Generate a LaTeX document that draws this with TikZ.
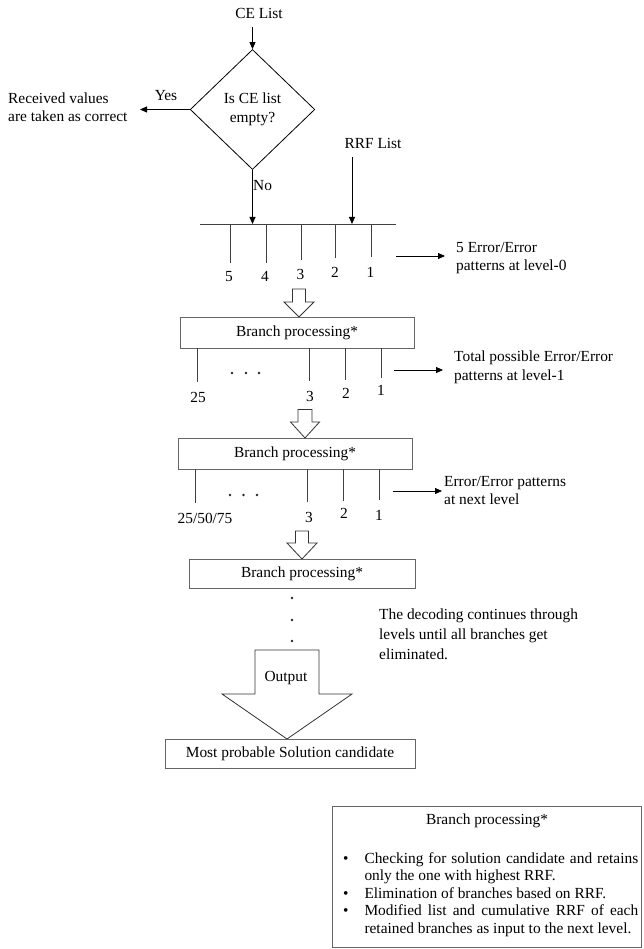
\documentclass[tikz,border=0pt]{standalone}
\usepackage{fontspec}
\setmainfont{Liberation Serif}
\usetikzlibrary{arrows.meta,shapes.geometric}
\newcommand\myBlockArrow[6]{% cx, top, shaft half, head start, head half, tip
  \draw[hollow] ({#1-#3},#2) -- ({#1+#3},#2) -- ({#1+#3},#4) -- ({#1+#5},#4) -- (#1,#6)
    -- ({#1-#5},#4) -- ({#1-#3},#4) -- cycle;}
\begin{document}
\begin{tikzpicture}[x=1pt,y=-1pt,
  every node/.style={font=\fontsize{15.4pt}{18.5pt}\selectfont, inner sep=0pt},
  arr/.style={draw=black, line width=0.8pt, -{Triangle[length=7pt,width=6pt]}},
  tick/.style={draw=black!75, line width=0.7pt},
  hline/.style={draw=black!75, line width=0.8pt},
  bbox/.style={draw=black!60, line width=0.8pt, minimum width=#1},
  hollow/.style={draw=black!80, line width=0.8pt, fill=white, line join=miter},
  lbl/.style={align=left, anchor=west},
  dot/.style={fill=black!85},
]
\useasboundingbox (0,0) rectangle (643,949);

% ---------- top: decision ----------
\node (ce) at (259,13) {CE List};
\coordinate (ceA) at (252.5,26.7);
\node[diamond, draw=black, line width=0.8pt, aspect=1.04, minimum width=124.6pt,
      minimum height=120pt, align=center] (dec) at (252.5,109.5) {Is CE list\\empty?};
\draw[arr] (ceA) -- (dec.north);

\node[lbl] (recv) at (8,107) {Received values\\are taken as correct};
\coordinate (yesEnd) at (140,109.5);
\draw[arr] (dec.west) -- (yesEnd);
\node (yes) at (166,96) {Yes};

% ---------- level 0 ----------
\coordinate (hl0w) at (200,224);
\coordinate (hl0e) at (396,224);
\draw[hline] (hl0w) -- (hl0e);
\draw[arr] (dec.south) -- (dec.south |- hl0w);
\node[anchor=west] (no) at (253,186) {No};

\node (rrf) at (373,143) {RRF List};
\coordinate (rrfA) at (352,157);
\draw[arr] (rrfA) -- (rrfA |- hl0w);

\coordinate (t05) at (230,263);
\coordinate (t04) at (266,263);
\coordinate (t03) at (301,260);
\coordinate (t02) at (335,258);
\coordinate (t01) at (371,257);
\foreach \t in {t05,t04,t03,t02,t01} \draw[tick] (\t |- hl0w) -- (\t);
\node (l05) at (229,277) {5};
\node (l04) at (265,276) {4};
\node (l03) at (300.5,274) {3};
\node (l02) at (335,272) {2};
\node (l01) at (370.5,272) {1};

\coordinate (r0a) at (396,256);
\coordinate (r0b) at (445,256);
\draw[arr] (r0a) -- (r0b);
\node[lbl] (txt0) at (456,258) {5 Error/Error\\patterns at level-0};

% ---------- branch processing 1 ----------
\myBlockArrow{299}{289}{6.5}{302}{15}{317}
\node[bbox=234pt, minimum height=31pt] (bp1) at (297,332.5) {Branch processing*};

\coordinate (t1a) at (197,382);
\coordinate (t1b) at (309,381);
\coordinate (t1c) at (345,380);
\coordinate (t1d) at (381,378);
\foreach \t in {t1a,t1b,t1c,t1d} \draw[tick] (\t |- bp1.south) -- (\t);
\foreach \x in {232,246,259} \fill[dot] (\x,373) circle (1.4pt);
\node (l1a) at (198,397) {25};
\node (l1b) at (310,396) {3};
\node (l1c) at (346,393) {2};
\node (l1d) at (381,390) {1};

\coordinate (r1a) at (394,370);
\coordinate (r1b) at (443,370);
\draw[arr] (r1a) -- (r1b);
\node[lbl] (txt1) at (454,367.5) {Total possible Error/Error\\patterns at level-1};

% ---------- branch processing 2 ----------
\myBlockArrow{305}{409.5}{7}{422}{14.5}{438}
\node[bbox=234pt, minimum height=31pt] (bp2) at (295,453.5) {Branch processing*};

\coordinate (t2a) at (195,503);
\coordinate (t2b) at (307,502);
\coordinate (t2c) at (343,501);
\coordinate (t2d) at (379,500);
\foreach \t in {t2a,t2b,t2c,t2d} \draw[tick] (\t |- bp2.south) -- (\t);
\foreach \x in {230,243.5,257} \fill[dot] (\x,495) circle (1.4pt);
\node (l2a) at (205,518) {25/50/75};
\node (l2b) at (309,517) {3};
\node (l2c) at (344,513) {2};
\node (l2d) at (379,515) {1};

\coordinate (r2a) at (393,491);
\coordinate (r2b) at (442,491);
\draw[arr] (r2a) -- (r2b);
\node[lbl] (txt2) at (444,490.5) {Error/Error patterns\\at next level};

% ---------- branch processing 3 ----------
\myBlockArrow{302}{531}{6.5}{543}{15}{559}
\node[bbox=226pt, minimum height=29.3pt] (bp3) at (302,573.7) {Branch processing*};

\foreach \y in {598,620,641} \fill[dot] (292,\y) circle (1.4pt);

\node[lbl, font=\fontsize{15.4pt}{20pt}\selectfont] (cont) at (379,634.5)
  {The decoding continues through\\levels until all branches get\\eliminated.};

% ---------- output ----------
\myBlockArrow{287}{650}{32}{694}{65}{739}
\node (out) at (286,678) {Output};
\node[bbox=250pt, minimum height=29pt] (sol) at (290,753.5) {Most probable Solution candidate};

% ---------- legend box ----------
\node[draw=black!60, line width=0.8pt, minimum width=309pt, minimum height=141pt] (bpbox) at (486.5,876.5) {};
\node (bptitle) at (487,821) {Branch processing*};
\node[anchor=north west, text width=295pt, align=justify,
      font=\fontsize{15.4pt}{17.5pt}\selectfont] (bplist) at (343,852) {%
  \tolerance=10000\hyphenpenalty=10000\exhyphenpenalty=10000\parindent=0pt
  \hangindent=21.3pt\hangafter=1\noindent\hbox to 21.3pt{\textbullet\hfil}Checking for solution candidate and retains\linebreak only the one with highest RRF.\par
  \hangindent=21.3pt\hangafter=1\noindent\hbox to 21.3pt{\textbullet\hfil}Elimination of branches based on RRF.\par
  \hangindent=21.3pt\hangafter=1\noindent\hbox to 21.3pt{\textbullet\hfil}Modified list and cumulative RRF of each\linebreak retained branches as input to the next level.\par};
\end{tikzpicture}
\end{document}
